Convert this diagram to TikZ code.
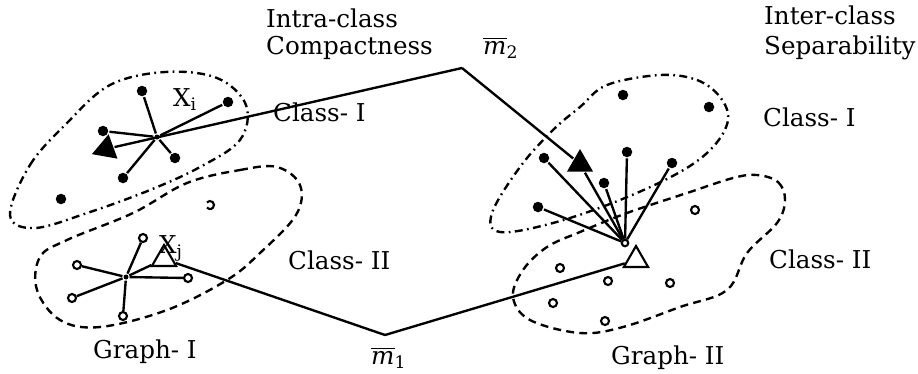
\documentclass[tikz,border=0pt]{standalone}
\usepackage{fontspec}
\setmainfont{DejaVu Serif}
\usetikzlibrary{shapes.geometric}

\begin{document}
\begin{tikzpicture}[x=0.02cm,y=-0.02cm,line width=1.35pt,
	fdot/.style={circle,fill,inner sep=0pt,minimum size=0.21cm},
	odot/.style={circle,draw,fill=white,inner sep=0pt,minimum size=0.16cm,line width=1.2pt},
	ftri/.style={regular polygon,regular polygon sides=3,fill,inner sep=0pt,minimum size=0.6cm},
	otri/.style={regular polygon,regular polygon sides=3,draw,inner sep=0pt,minimum size=0.56cm,line width=1.2pt},
	lbl/.style={anchor=west,inner sep=0pt,font=\fontsize{14}{17}\selectfont},
	dashdot/.style={dash pattern=on 4.5pt off 2.5pt on 1pt off 2.5pt},
	dashline/.style={dash pattern=on 4.5pt off 3pt}]
	\useasboundingbox (0,0) rectangle (918,373);

	% class regions
	\draw [dashdot] plot [smooth cycle,tension=0.6] coordinates {(10,215) (30,165) (67,123) (110,85) (165,72) (217,78) (246,105) (240,140) (200,167) (150,190) (90,212) (35,228)};
	\draw [dashline] plot [smooth cycle,tension=0.6] coordinates {(187,183) (240,170) (277,167) (300,185) (296,215) (260,253) (227,280) (167,310) (100,327) (60,320) (37,290) (40,257) (67,240) (133,213)};
	\draw [dashdot] plot [smooth cycle,tension=0.6] coordinates {(660,75) (697,80) (720,97) (728,120) (713,147) (680,172) (620,200) (553,223) (500,232) (492,213) (520,167) (553,130) (580,107) (607,85)};
	\draw [dashline] plot [smooth cycle,tension=0.6] coordinates {(757,175) (778,182) (785,200) (777,223) (747,253) (727,290) (680,307) (623,327) (580,333) (530,320) (513,297) (523,270) (547,247) (580,232) (627,213) (687,193) (733,178)};
	\draw [line width=1.2pt] (210,205) ++(-140:4) arc [start angle=-140,end angle=140,radius=4];

	% graph I
	\node[fdot,minimum size=0.1cm] (h1) at (157,137) {};
	\node[fdot] (a1) at (142,91) {};
	\node[fdot] (a2) at (228,102) {};
	\node[fdot] (a3) at (103,131) {};
	\node[fdot] (a4) at (175,158) {};
	\node[fdot] (a5) at (123,178) {};
	\node[fdot] (a6) at (61,199) {};
	\node[ftri,regular polygon rotate=110] (xi) at (106,149) {};
	\node[fdot,minimum size=0.1cm] (h2) at (126,277) {};
	\node[odot] (b1) at (143,238) {};
	\node[odot] (b2) at (77,265) {};
	\node[odot] (b3) at (188,278) {};
	\node[odot] (b4) at (72,298) {};
	\node[odot] (b5) at (123,316) {};
	\node[otri] (xj) at (164,259) {};

	% graph II
	\node[odot,minimum size=0.13cm] (h3) at (625,243) {};
	\node[fdot] (c1) at (544,158) {};
	\node[fdot] (c2) at (604,183) {};
	\node[fdot] (c3) at (627,152) {};
	\node[fdot] (c4) at (672,163) {};
	\node[fdot] (c5) at (538,207) {};
	\node[fdot] (c6) at (623,95) {};
	\node[fdot] (c7) at (709,107) {};
	\node[ftri] (t2) at (580,164) {};
	\node[odot] (d1) at (695,210) {};
	\node[odot] (d2) at (560,268) {};
	\node[odot] (d3) at (608,281) {};
	\node[odot] (d4) at (670,283) {};
	\node[odot] (d5) at (553,303) {};
	\node[odot] (d6) at (605,321) {};
	\node[otri] (t3) at (636,260) {};

	\coordinate (m1) at (385,335);
	\coordinate (m2) at (462,68);

	\draw (h1) -- (a1);
	\draw (h1) -- (a2);
	\draw (h1) -- (a3);
	\draw (h1) -- (a4);
	\draw (h1) -- (a5);
	\draw (h2) -- (b1);
	\draw (h2) -- (b2);
	\draw (h2) -- (b3);
	\draw (h2) -- (b4);
	\draw (h2) -- (b5);
	\draw (h2) -- (xj);
	\draw (h3) -- (c1);
	\draw (h3) -- (c2);
	\draw (h3) -- (c3);
	\draw (h3) -- (c4);
	\draw (h3) -- (c5);
	\draw (h3) -- (t2);
	\draw (m2) -- (xi);
	\draw (m2) -- (t2);
	\draw (m1) -- (xj);
	\draw (m1) -- (t3);

	% labels
	\node[lbl] (intra) at (265,18) {Intra-class};
	\node[lbl] (compact) at (265,48) {Compactness};
	\node[lbl] (inter) at (763,15) {Inter-class};
	\node[lbl] (separ) at (763,48) {Separability};
	\node[lbl] (cls1a) at (272,112) {Class- I};
	\node[lbl] (cls1b) at (762,117) {Class- I};
	\node[lbl] (cls2a) at (287,260) {Class- II};
	\node[lbl] (cls2b) at (768,259) {Class- II};
	\node[lbl] (graph1) at (92,352) {Graph- I};
	\node[lbl] (graph2) at (610,358) {Graph- II};
	\node[lbl] (xilbl) at (172,100) {X$_\mathrm{i}$};
	\node[lbl] (xjlbl) at (158,248) {X$_\mathrm{j}$};
	\node[lbl] (m1lbl) at (370,358) {$\overline{\mbox{\itshape m}}$\textsubscript{1}};
	\node[lbl] (m2lbl) at (482,48) {$\overline{\mbox{\itshape m}}$\textsubscript{2}};
\end{tikzpicture}
\end{document}
